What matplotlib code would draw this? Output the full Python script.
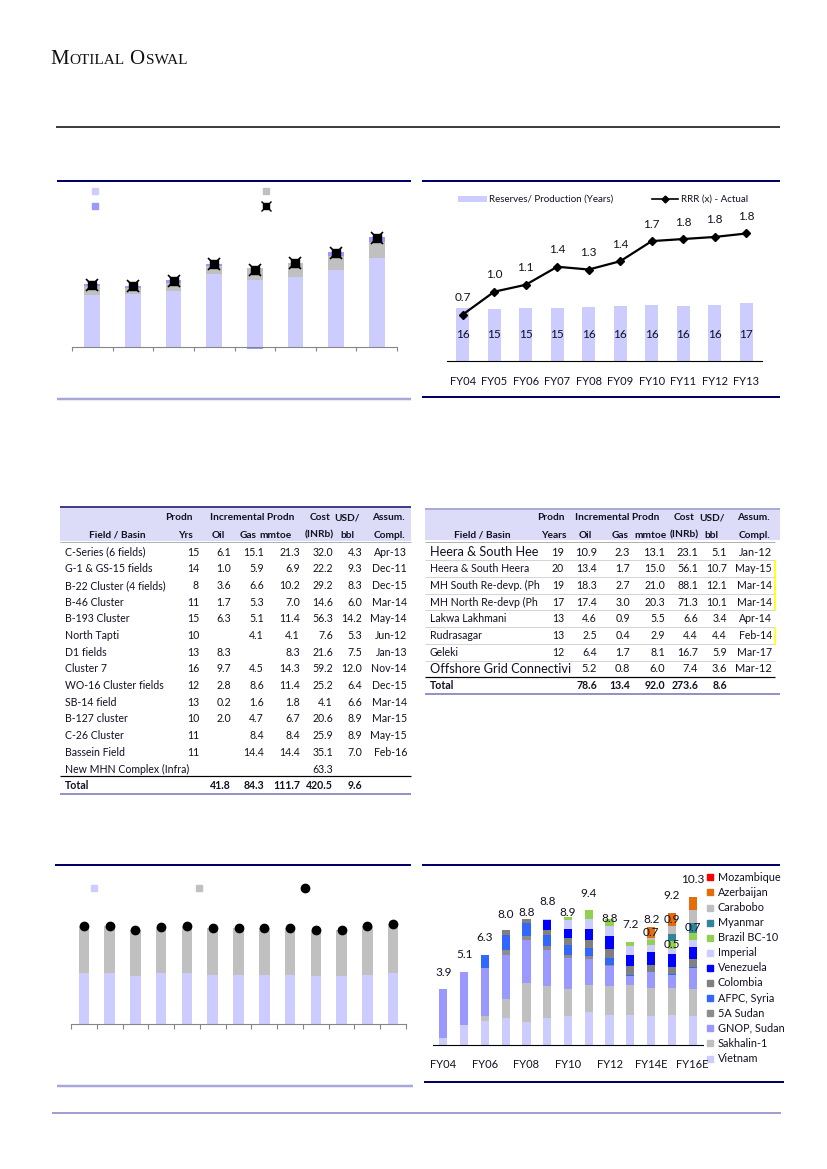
import numpy as np
import matplotlib.pyplot as plt

FONT = 'Lato'
plt.rcParams['font.family'] = [FONT, 'DejaVu Sans']

# ---------------- data ----------------
# top-left stacked bars (no visible labels in source)
tl_base = [25.8, 26.7, 27.8, 36.7, 33.7, 35.2, 38.7, 44.3]
tl_mid = [4.5, 3.0, 4.0, 4.0, 6.0, 7.0, 7.0, 8.3]
tl_top = [1.0, 1.0, 1.5, 0.7, -1.2, -0.7, 1.7, 2.2]
tl_total = [31.2, 30.7, 33.2, 41.5, 38.3, 41.8, 47.2, 54.5]

# top-right: reserves/production and RRR
tr_years = ['FY04', 'FY05', 'FY06', 'FY07', 'FY08', 'FY09', 'FY10', 'FY11', 'FY12', 'FY13']
tr_rp = [15.6, 15.2, 15.45, 15.45, 15.8, 16.1, 16.4, 16.1, 16.4, 17.0]
tr_rrr = [0.67, 1.00, 1.10, 1.36, 1.32, 1.44, 1.73, 1.76, 1.79, 1.84]

# left table
t1_names = ['C-Series (6 fields)', 'G-1 & GS-15 fields', 'B-22 Cluster (4 fields)', 'B-46 Cluster',
            'B-193 Cluster', 'North Tapti', 'D1 fields', 'Cluster 7', 'WO-16 Cluster fields',
            'SB-14 field', 'B-127 cluster', 'C-26 Cluster', 'Bassein Field', 'New MHN Complex (Infra)']
t1_yrs = [15, 14, 8, 11, 15, 10, 13, 16, 12, 13, 10, 11, 11, None]
t1_oil = [6.1, 1.0, 3.6, 1.7, 6.3, None, 8.3, 9.7, 2.8, 0.2, 2.0, None, None, None]
t1_gas = [15.1, 5.9, 6.6, 5.3, 5.1, 4.1, None, 4.5, 8.6, 1.6, 4.7, 8.4, 14.4, None]
t1_mmtoe = [21.3, 6.9, 10.2, 7.0, 11.4, 4.1, 8.3, 14.3, 11.4, 1.8, 6.7, 8.4, 14.4, None]
t1_cost = [32.0, 22.2, 29.2, 14.6, 56.3, 7.6, 21.6, 59.2, 25.2, 4.1, 20.6, 25.9, 35.1, 63.3]
t1_usd = [4.3, 9.3, 8.3, 6.0, 14.2, 5.3, 7.5, 12.0, 6.4, 6.6, 8.9, 8.9, 7.0, None]
t1_compl = ['Apr-13', 'Dec-11', 'Dec-15', 'Mar-14', 'May-14', 'Jun-12', 'Jan-13', 'Nov-14',
            'Dec-15', 'Mar-14', 'Mar-15', 'May-15', 'Feb-16', '']
t1_total = [41.8, 84.3, 111.7, 420.5, 9.6]

# right table
t2_names = ['Heera & South Hee', 'Heera & South Heera', 'MH South Re-devp. (Ph', 'MH North Re-devp (Ph',
            'Lakwa Lakhmani', 'Rudrasagar', 'Geleki', 'Offshore Grid Connectivi']
t2_yrs = [19, 20, 19, 17, 13, 13, 12, None]
t2_oil = [10.9, 13.4, 18.3, 17.4, 4.6, 2.5, 6.4, 5.2]
t2_gas = [2.3, 1.7, 2.7, 3.0, 0.9, 0.4, 1.7, 0.8]
t2_mmtoe = [13.1, 15.0, 21.0, 20.3, 5.5, 2.9, 8.1, 6.0]
t2_cost = [23.1, 56.1, 88.1, 71.3, 6.6, 4.4, 16.7, 7.4]
t2_usd = [5.1, 10.7, 12.1, 10.1, 3.4, 4.4, 5.9, 3.6]
t2_compl = ['Jan-12', 'May-15', 'Mar-14', 'Mar-14', 'Apr-14', 'Feb-14', 'Mar-17', 'Mar-12']
t2_total = [78.6, 13.4, 92.0, 273.6, 8.6]

# bottom-left stacked bars (no visible labels in source)
bl_oil = [25.4, 25.7, 23.9, 25.4, 25.4, 24.7, 24.4, 24.7, 24.7, 23.9, 23.9, 24.7, 25.7]
bl_gas = [23.5, 23.4, 23.0, 23.0, 23.5, 23.4, 23.7, 23.4, 23.4, 23.2, 23.0, 24.5, 24.4]

# bottom-right: OVL production by asset (mmtoe)
br_years = ['FY04', 'FY05', 'FY06', 'FY07', 'FY08', 'FY09', 'FY10', 'FY11', 'FY12', 'FY13',
            'FY14E', 'FY15E', 'FY16E']
br_assets = ['Vietnam', 'Sakhalin-1', 'GNOP, Sudan', '5A Sudan', 'AFPC, Syria', 'Colombia', 'Venezuela',
             'Imperial', 'Brazil BC-10', 'Myanmar', 'Carabobo', 'Azerbaijan', 'Mozambique']
br_vals = {
    'Vietnam':      [0.5, 1.4, 1.7, 1.9, 1.6, 1.9, 2.0, 2.3, 2.1, 2.1, 2.0, 2.1, 2.0],
    'Sakhalin-1':   [0, 0, 0.3, 1.3, 2.7, 2.2, 1.9, 1.9, 2.0, 2.1, 2.0, 1.9, 1.9],
    'GNOP, Sudan':  [3.4, 3.7, 3.4, 3.1, 3.0, 2.5, 2.2, 1.8, 1.4, 0.6, 1.1, 0.9, 1.5],
    '5A Sudan':     [0, 0, 0, 0.3, 0.3, 0.3, 0.2, 0.2, 0.1, 0, 0, 0, 0],
    'AFPC, Syria':  [0, 0, 0.9, 1.1, 0.9, 0.8, 0.7, 0.6, 0.5, 0.1, 0, 0.03, 0.03],
    'Colombia':     [0, 0, 0, 0.3, 0.3, 0.3, 0.5, 0.5, 0.6, 0.6, 0.5, 0.5, 0.6],
    'Venezuela':    [0, 0, 0, 0, 0, 0.7, 0.6, 0.8, 0.9, 0.8, 0.9, 0.9, 0.8],
    'Imperial':     [0, 0, 0, 0, 0, 0.1, 0.6, 0.7, 0.7, 0.6, 0.5, 0.4, 0.5],
    'Brazil BC-10': [0, 0, 0, 0, 0, 0, 0.2, 0.6, 0.5, 0.3, 0.3, 0.5, 0.5],
    'Myanmar':      [0, 0, 0, 0, 0, 0, 0, 0, 0, 0, 0.05, 0.5, 0.7],
    'Carabobo':     [0, 0, 0, 0, 0, 0, 0, 0, 0, 0, 0.15, 0.6, 0.9],
    'Azerbaijan':   [0, 0, 0, 0, 0, 0, 0, 0, 0, 0, 0.7, 0.9, 0.9],
    'Mozambique':   [0, 0, 0, 0, 0, 0, 0, 0, 0, 0, 0, 0, 0],
}
br_colors = {'Vietnam': '#ccccff', 'Sakhalin-1': '#c0c0c0', 'GNOP, Sudan': '#9999ff', '5A Sudan': '#8c8c8c',
             'AFPC, Syria': '#3366ff', 'Colombia': '#808080', 'Venezuela': '#0000ff', 'Imperial': '#ccccff',
             'Brazil BC-10': '#92d050', 'Myanmar': '#31849b', 'Carabobo': '#bfbfbf', 'Azerbaijan': '#e46c0a',
             'Mozambique': '#ff0000'}
# segment labels shown in the source: (asset, year index)
br_seg_labels = [('Azerbaijan', 10), ('Azerbaijan', 11), ('Brazil BC-10', 11), ('Myanmar', 12)]
# vertical nudge (px) of total labels, as placed in the source
br_label_dy = [17, 17, 17, 16, 6, 17, 5, 17, 0, 17, 8, 17, 17]

# ---------------- page ----------------
W, H = 827, 1169
fig = plt.figure(figsize=(W / 100, H / 100), dpi=100)
pg = fig.add_axes([0, 0, 1, 1])
pg.set_xlim(0, W)
pg.set_ylim(H, 0)
pg.axis('off')

NAVY = '#000066'
LAV = '#a8a8d8'
TXT = '#111122'
PX = 0.72  # points per pixel


def box(x0, y0, x1, y1):
    ax = fig.add_axes([x0 / W, 1 - y1 / H, (x1 - x0) / W, (y1 - y0) / H])
    ax.set_facecolor('none')
    return ax


def hline(y, x0, x1, c, lw):
    pg.plot([x0, x1], [y, y], color=c, lw=lw * PX, solid_capstyle='butt')


# logo in small caps
fig.canvas.draw()
r = fig.canvas.get_renderer()
xx = 50
for s, fs in [('M', 15), ('OTILAL', 11), (' ', 11), ('O', 15), ('SWAL', 11)]:
    t = pg.text(xx, 64, s, fontsize=fs, family='Liberation Serif', color='#111111', va='baseline')
    bb = t.get_window_extent(renderer=r)
    xx += bb.width + (1 if s.strip() else 0)

hline(127, 56, 780, 'black', 1.5)

# panel frame lines
hline(181, 57, 411, NAVY, 2)
hline(399, 57, 411, LAV, 2.5)
hline(181, 422, 780, NAVY, 2)
hline(397, 422, 780, NAVY, 2)
hline(865, 55, 411, NAVY, 2)
hline(1086, 57, 413, LAV, 2.5)
hline(865, 422, 780, NAVY, 2)
hline(1082, 424, 784, NAVY, 2)
hline(1113, 52, 781, '#a0a0d0', 2)

# ---------------- top-left chart ----------------
ax = box(72, 215, 397, 352)
x = np.arange(len(tl_base))
bw = 0.39
base = np.array(tl_base)
mid = np.array(tl_mid)
top = np.array(tl_top)
ax.bar(x, base, bw, color='#ccccff', lw=0)
ax.bar(x, mid, bw, bottom=base, color='#c0c0c0', lw=0)
ax.bar(x, top, bw, bottom=np.where(top > 0, base + mid, 0), color='#9999ff', lw=0)
ax.plot(x, tl_total, 's', color='black', ms=5.5, zorder=5)
ax.plot(x, tl_total, 'x', color='black', ms=8, mew=1.2, zorder=5)
ax.set_xlim(-0.5, len(x) - 0.5)
ax.set_ylim(-2.5, 66)
for sp in ['left', 'right', 'top']:
    ax.spines[sp].set_visible(False)
ax.spines['bottom'].set_position(('data', 0))
ax.spines['bottom'].set_color('#868686')
ax.set_xticks(np.arange(-0.5, len(x), 1))
ax.tick_params(axis='x', direction='out', length=3.2, color='#868686', labelbottom=False)
ax.set_yticks([])

pg.plot([95], [191], 's', color='#ccccff', ms=4.5)
pg.plot([266], [191], 's', color='#c0c0c0', ms=4.5)
pg.plot([95], [206], 's', color='#9999ff', ms=4.5)
pg.plot([266], [206], 's', color='black', ms=5)
pg.plot([266], [206], 'x', color='black', ms=7, mew=1)

# ---------------- top-right chart ----------------
ax = box(447, 185, 762, 361)
x = np.arange(len(tr_years))
ax.bar(x, tr_rp, 0.41, color='#ccccff', lw=0)
for i, v in enumerate(tr_rp):
    ax.annotate('%.0f' % v, (i, 0), xytext=(0, 27 * PX), textcoords='offset points',
                ha='center', va='center', fontsize=8.5, color=TXT)
ax.set_xlim(-0.5, len(x) - 0.5)
ax.set_ylim(0, 176 / 3.4)
for sp in ['left', 'right', 'top']:
    ax.spines[sp].set_visible(False)
ax.spines['bottom'].set_color('black')
ax.set_yticks([])
ax.set_xticks(x)
ax.set_xticklabels(tr_years, fontsize=8, color=TXT)
ax.tick_params(axis='x', length=0, pad=15 * PX)
ax2 = ax.twinx()
ax2.plot(x, tr_rrr, '-D', color='black', lw=1.6, ms=3.8)
for i, v in enumerate(tr_rrr):
    ax2.annotate('%.1f' % v, (i, v), xytext=(0, 17 * PX), textcoords='offset points',
                 ha='center', va='center', fontsize=8.5, color=TXT)
ax2.set_ylim(0, 176 / 69.3)
ax2.axis('off')

pg.add_patch(plt.Rectangle((458, 196), 29, 6, color='#ccccff', lw=0))
pg.text(489, 199, 'Reserves/ Production (Years)', fontsize=7, va='center', color=TXT)
pg.plot([652, 678], [199, 199], color='black', lw=1.2)
pg.plot([665], [199], 'D', color='black', ms=3.5)
pg.text(681, 199, 'RRR (x) - Actual', fontsize=7, va='center', color=TXT)


# ---------------- tables ----------------
def fmt(v, d=1):
    if v is None:
        return ''
    return ('%.' + str(d) + 'f') % v if d else '%d' % v


TFS = 7.6
HFS = 7.3
STEP = 16.7


def header(x0, x1, y0, y1, row1, row2):
    pg.add_patch(plt.Rectangle((x0, y0), x1 - x0, y1 - y0, color='#dcdcf8', lw=0))
    for s, xx, ha in row1:
        pg.text(xx, 518, s, fontsize=HFS, weight='bold', ha=ha, va='center', color=TXT)
    for s, xx, ha in row2:
        pg.text(xx, 535, s, fontsize=HFS, weight='bold', ha=ha, va='center', color=TXT)


# left table
header(60, 411, 508, 541,
       [('Prodn', 193, 'right'), ('Incremental Prodn', 252, 'center'), ('Cost', 330, 'right'),
        ('USD/', 360, 'right'), ('Assum.', 405, 'right')],
       [('Field / Basin', 117, 'center'), ('Yrs', 193, 'right'), ('Oil', 225, 'right'),
        ('Gas', 257, 'right'), ('mmtoe', 292, 'right'), ('(INRb)', 334, 'right'),
        ('bbl', 354, 'right'), ('Compl.', 405, 'right')])
hline(507, 60, 411, NAVY, 1.5)
hline(542, 60, 411, '#b0b0b0', 1)
cols1 = [199, 231, 264, 300, 333, 362, 407]
for i, nm in enumerate(t1_names):
    y = 552 + i * STEP
    pg.text(65, y, nm, fontsize=TFS, va='center', color=TXT)
    cells = [fmt(t1_yrs[i], 0), fmt(t1_oil[i]), fmt(t1_gas[i]), fmt(t1_mmtoe[i]),
             fmt(t1_cost[i]), fmt(t1_usd[i]), t1_compl[i]]
    for c, s in zip(cols1, cells):
        pg.text(c, y, s, fontsize=TFS, ha='right', va='center', color=TXT)
yt = 552 + len(t1_names) * STEP
hline(yt - 9.5, 60, 411, 'black', 1.2)
pg.text(65, yt, 'Total', fontsize=TFS, weight='bold', va='center', color=TXT)
for c, v in zip(cols1[1:6], t1_total):
    pg.text(c, yt, fmt(v), fontsize=TFS, weight='bold', ha='right', va='center', color=TXT)
hline(794, 60, 411, '#7070b8', 1.5)

# right table
header(425, 780, 510, 540,
       [('Prodn', 537, 'left'), ('Incremental Prodn', 617, 'center'), ('Cost', 695, 'right'),
        ('USD/', 725, 'right'), ('Assum.', 770, 'right')],
       [('Field / Basin', 482, 'center'), ('Years', 567, 'right'), ('Oil', 592, 'right'),
        ('Gas', 629, 'right'), ('mmtoe', 667, 'right'), ('(INRb)', 699, 'right'),
        ('bbl', 718, 'right'), ('Compl.', 770, 'right')])
hline(509, 425, 780, '#9090c8', 1.5)
hline(542, 425, 775, '#b0b0b0', 1)
cols2 = [564, 597, 630, 665, 698, 727, 772]
for i, nm in enumerate(t2_names):
    y = 552 + i * STEP
    big = i in (0, len(t2_names) - 1)
    pg.text(430, y, nm, fontsize=9.2 if big else TFS, va='center', color=TXT)
    cells = [fmt(t2_yrs[i], 0), fmt(t2_oil[i]), fmt(t2_gas[i]), fmt(t2_mmtoe[i]),
             fmt(t2_cost[i]), fmt(t2_usd[i]), t2_compl[i]]
    for c, s in zip(cols2, cells):
        pg.text(c, y, s, fontsize=TFS + 0.3 if big else TFS, ha='right', va='center', color=TXT)
    if i < len(t2_names) - 1:
        hline(y + STEP / 2, 425, 775, '#d4d4d4', 1)
for i in (1, 2, 3, 5):
    y = 552 + i * STEP
    pg.plot([774.5, 774.5], [y - 8, y + 8], color='#ffff00', lw=1.2)
yt = 552 + len(t2_names) * STEP
hline(yt - 9, 425, 775, 'black', 1.2)
pg.text(430, yt, 'Total', fontsize=TFS, weight='bold', va='center', color=TXT)
for c, v in zip(cols2[1:6], t2_total):
    pg.text(c, yt, fmt(v), fontsize=TFS, weight='bold', ha='right', va='center', color=TXT)
hline(694, 425, 780, '#7070b8', 1.5)

# ---------------- bottom-left chart ----------------
ax = box(71, 875, 406, 1024)
x = np.arange(len(bl_oil))
oil = np.array(bl_oil)
gas = np.array(bl_gas)
ax.bar(x, oil, 0.41, color='#ccccff', lw=0)
ax.bar(x, gas, 0.41, bottom=oil, color='#c0c0c0', lw=0)
ax.plot(x, oil + gas, 'o', color='black', ms=6, zorder=5)
ax.set_xlim(-0.5, len(x) - 0.5)
ax.set_ylim(0, 74.5)
for sp in ['left', 'right', 'top']:
    ax.spines[sp].set_visible(False)
ax.spines['bottom'].set_color('#868686')
ax.set_xticks(np.arange(-0.5, len(x), 1))
ax.tick_params(axis='x', direction='out', length=3.4, color='#868686', labelbottom=False)
ax.set_yticks([])
pg.plot([94], [888], 's', color='#ccccff', ms=4.5)
pg.plot([199], [888], 's', color='#c0c0c0', ms=4.5)
pg.plot([305], [888], 'o', color='black', ms=6)

# ---------------- bottom-right chart ----------------
ax = box(433, 870, 703, 1045)
x = np.arange(len(br_years))
bottom = np.zeros(len(x))
seg_mid = {}
for a in br_assets:
    v = np.array(br_vals[a])
    ax.bar(x, v, 0.39, bottom=bottom, color=br_colors[a], lw=0)
    seg_mid[a] = bottom + v / 2
    bottom = bottom + v
for i, tot in enumerate(bottom):
    ax.annotate('%.1f' % tot, (i, tot), xytext=(0, br_label_dy[i] * PX), textcoords='offset points',
                ha='center', va='center', fontsize=8.5, color=TXT)
for a, i in br_seg_labels:
    ax.text(i, seg_mid[a][i], '%.1f' % br_vals[a][i], ha='center', va='center', fontsize=8.5, color=TXT)
ax.set_xlim(-0.5, len(x) - 0.5)
ax.set_ylim(0, 175 / 14.33)
for sp in ['left', 'right', 'top']:
    ax.spines[sp].set_visible(False)
ax.spines['bottom'].set_color('black')
ax.set_yticks([])
ax.set_xticks(x[::2])
ax.set_xticklabels(br_years[::2], fontsize=8, color=TXT)
ax.tick_params(axis='x', length=0, pad=14 * PX)

for k, a in enumerate(br_assets[::-1]):
    y = 877.3 + k * 15.1
    pg.plot([710], [y], 's', color=br_colors[a], ms=4.5)
    pg.text(718, y, a, fontsize=7.8, va='center', color=TXT)

fig.savefig('out.png', dpi=100)
